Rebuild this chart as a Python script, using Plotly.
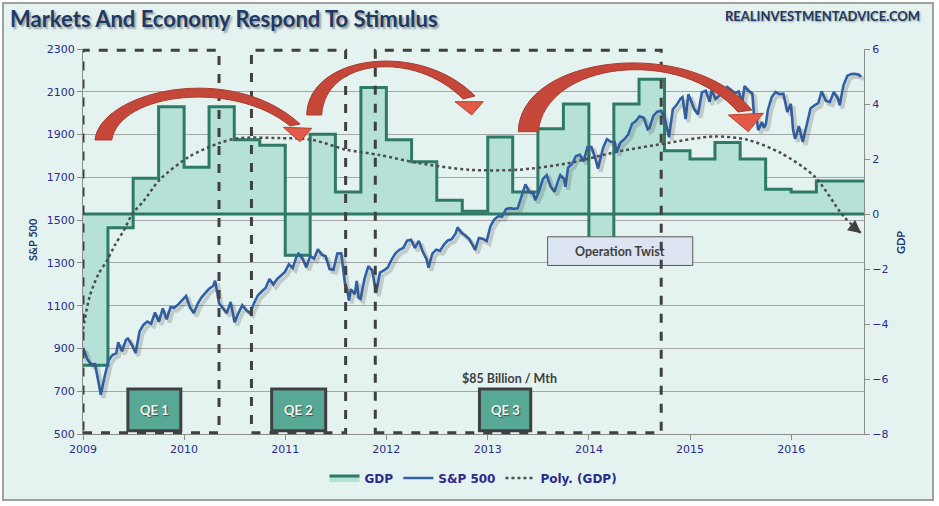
import pandas as pd
import plotly.graph_objects as go

# ---------------- data ----------------
gdp_dates = ["2009-01-01", "2009-04-01", "2009-07-01", "2009-10-01",
             "2010-01-01", "2010-04-01", "2010-07-01", "2010-10-01",
             "2011-01-01", "2011-04-01", "2011-07-01", "2011-10-01",
             "2012-01-01", "2012-04-01", "2012-07-01", "2012-10-01",
             "2013-01-01", "2013-04-01", "2013-07-01", "2013-10-01",
             "2014-01-01", "2014-04-01", "2014-07-01", "2014-10-01",
             "2015-01-01", "2015-04-01", "2015-07-01", "2015-10-01",
             "2016-01-01", "2016-04-01", "2016-09-20"]
gdp_vals = [-5.5, -0.5, 1.3, 3.9,
            1.7, 3.9, 2.7, 2.5,
            -1.5, 2.9, 0.8, 4.6,
            2.7, 1.9, 0.5, 0.1,
            2.8, 0.8, 3.1, 4.0,
            -0.9, 4.0, 4.9, 2.3,
            2.0, 2.6, 2.0, 0.9,
            0.8, 1.2, 1.2]

sp_dates = [
    "2009-01-02", "2009-01-16", "2009-01-30", "2009-02-13", "2009-02-27", "2009-03-06", "2009-03-20",
    "2009-04-03", "2009-04-17", "2009-05-01", "2009-05-08", "2009-05-22", "2009-06-05", "2009-06-12",
    "2009-06-26", "2009-07-10", "2009-07-24", "2009-08-07", "2009-08-21", "2009-09-04", "2009-09-18",
    "2009-10-02", "2009-10-16", "2009-10-30", "2009-11-13", "2009-11-27", "2009-12-11", "2009-12-24",
    "2010-01-08", "2010-01-22", "2010-02-05", "2010-02-19", "2010-03-05", "2010-03-19", "2010-04-01",
    "2010-04-16", "2010-04-23", "2010-05-07", "2010-05-21", "2010-06-04", "2010-06-18", "2010-07-02",
    "2010-07-16", "2010-07-30", "2010-08-13", "2010-08-27", "2010-09-10", "2010-09-24", "2010-10-08",
    "2010-10-22", "2010-11-05", "2010-11-19", "2010-12-03", "2010-12-17", "2010-12-31",
    "2011-01-14", "2011-01-28", "2011-02-11", "2011-02-18", "2011-03-04", "2011-03-18", "2011-04-01",
    "2011-04-15", "2011-04-29", "2011-05-13", "2011-05-27", "2011-06-10", "2011-06-24", "2011-07-08",
    "2011-07-22", "2011-08-05", "2011-08-12", "2011-08-19", "2011-08-26", "2011-09-09", "2011-09-16",
    "2011-09-23", "2011-09-30", "2011-10-14", "2011-10-28", "2011-11-11", "2011-11-25", "2011-12-09",
    "2011-12-23",
    "2012-01-06", "2012-01-20", "2012-02-03", "2012-02-17", "2012-03-02", "2012-03-16", "2012-03-30",
    "2012-04-13", "2012-04-27", "2012-05-11", "2012-05-25", "2012-06-01", "2012-06-15", "2012-06-29",
    "2012-07-13", "2012-07-27", "2012-08-10", "2012-08-24", "2012-09-07", "2012-09-14", "2012-09-28",
    "2012-10-12", "2012-10-26", "2012-11-09", "2012-11-16", "2012-11-30", "2012-12-14", "2012-12-28",
    "2013-01-11", "2013-01-25", "2013-02-08", "2013-02-22", "2013-03-08", "2013-03-22", "2013-04-05",
    "2013-04-19", "2013-05-03", "2013-05-17", "2013-05-31", "2013-06-14", "2013-06-21", "2013-07-05",
    "2013-07-19", "2013-08-02", "2013-08-16", "2013-08-30", "2013-09-13", "2013-09-20", "2013-10-04",
    "2013-10-08", "2013-10-18", "2013-11-01", "2013-11-15", "2013-11-29", "2013-12-13", "2013-12-27",
    "2014-01-10", "2014-01-24", "2014-02-03", "2014-02-21", "2014-03-07", "2014-03-21", "2014-04-04",
    "2014-04-11", "2014-04-25", "2014-05-09", "2014-05-23", "2014-06-06", "2014-06-20", "2014-07-03",
    "2014-07-18", "2014-08-01", "2014-08-08", "2014-08-22", "2014-09-05", "2014-09-19", "2014-10-03",
    "2014-10-17", "2014-10-31", "2014-11-14", "2014-11-28", "2014-12-05", "2014-12-16", "2014-12-26",
    "2015-01-09", "2015-01-16", "2015-01-30", "2015-02-13", "2015-02-27", "2015-03-13", "2015-03-20",
    "2015-04-03", "2015-04-17", "2015-05-01", "2015-05-15", "2015-05-29", "2015-06-12", "2015-06-26",
    "2015-07-08", "2015-07-17", "2015-07-31", "2015-08-14", "2015-08-21", "2015-08-28", "2015-09-04",
    "2015-09-18", "2015-09-25", "2015-10-02", "2015-10-09", "2015-10-23", "2015-11-06", "2015-11-20",
    "2015-12-04", "2015-12-18", "2015-12-31",
    "2016-01-08", "2016-01-15", "2016-01-22", "2016-01-29", "2016-02-12", "2016-02-26", "2016-03-11",
    "2016-03-24", "2016-04-08", "2016-04-20", "2016-05-06", "2016-05-20", "2016-06-03", "2016-06-17",
    "2016-06-24", "2016-07-08", "2016-07-22", "2016-08-05", "2016-08-19", "2016-09-02", "2016-09-09"]
sp_vals = [
    903, 850, 826, 827, 735, 683, 768,
    842, 869, 877, 929, 887, 940, 946,
    918, 879, 979, 1010, 1026, 1016, 1068,
    1025, 1087, 1036, 1093, 1091, 1106, 1126,
    1145, 1092, 1066, 1109, 1139, 1160, 1179,
    1192, 1217, 1111, 1088, 1065, 1117, 1022,
    1065, 1102, 1079, 1065, 1110, 1148, 1166,
    1183, 1225, 1199, 1225, 1244, 1258,
    1293, 1276, 1329, 1343, 1321, 1279, 1332,
    1320, 1364, 1338, 1331, 1271, 1268, 1344,
    1345, 1199, 1179, 1124, 1177, 1154, 1216,
    1136, 1131, 1225, 1285, 1264, 1159, 1255,
    1265,
    1278, 1315, 1345, 1361, 1370, 1404, 1408,
    1370, 1403, 1353, 1317, 1278, 1343, 1362,
    1357, 1386, 1405, 1411, 1438, 1466, 1441,
    1428, 1411, 1380, 1360, 1416, 1413, 1402,
    1472, 1503, 1518, 1516, 1551, 1556, 1553,
    1555, 1614, 1667, 1631, 1626, 1593, 1632,
    1692, 1710, 1656, 1633, 1688, 1710, 1691,
    1656, 1745, 1762, 1798, 1806, 1775, 1842,
    1842, 1790, 1741, 1836, 1878, 1866, 1865,
    1816, 1863, 1878, 1900, 1950, 1963, 1985,
    1978, 1925, 1931, 1988, 2007, 2011, 1968,
    1887, 2018, 2039, 2068, 2075, 1972, 2088,
    2044, 2019, 1995, 2097, 2105, 2053, 2108,
    2067, 2081, 2108, 2123, 2107, 2094, 2101,
    2046, 2127, 2104, 2092, 1971, 1989, 1921,
    1958, 1932, 1951, 2014, 2075, 2099, 2089,
    2091, 2005, 2044,
    1922, 1880, 1907, 1940, 1865, 1948, 2022,
    2035, 2047, 2102, 2057, 2052, 2099, 2071,
    2037, 2130, 2175, 2183, 2184, 2180, 2170]

trend_dates = ["2009-01-01", "2009-01-25", "2009-02-25", "2009-03-28", "2009-04-28", "2009-05-28",
               "2009-06-28", "2009-08-10", "2009-10-05", "2010-01-20", "2010-05-08", "2010-07-20",
               "2010-12-10", "2011-04-08", "2011-08-08", "2011-12-05", "2012-04-27", "2012-10-24",
               "2013-04-23", "2013-10-19", "2014-04-16", "2014-10-12", "2015-03-28", "2015-07-27",
               "2015-11-24", "2016-03-25", "2016-07-08", "2016-09-10"]
trend_vals = [-4.2, -3.0, -2.2, -1.7, -1.1, -0.6,
              0.0, 0.5, 1.25, 2.09, 2.58, 2.76,
              2.76, 2.7, 2.34, 2.15, 1.85, 1.61,
              1.61, 1.85, 2.27, 2.58, 2.82, 2.7,
              2.22, 1.37, -0.08, -0.7]

qe_labels = ["QE 1", "QE 2", "QE 3"]
qe_box_start = ["2009-01-01", "2010-09-01", "2011-11-22"]
qe_box_end = ["2010-05-07", "2011-08-07", "2014-09-19"]
qe_label_start = ["2009-06-12", "2010-11-13", "2012-12-02"]
qe_label_end = ["2009-12-20", "2011-05-27", "2013-06-05"]

twist_label = "Operation Twist"
twist_start, twist_end = "2013-08-05", "2015-01-11"
qe3_note = "$85 Billion / Mth"
qe3_note_date = "2013-03-21"

x_range = ["2009-01-01", "2016-09-20"]
sp_range = [500, 2300]
gdp_range = [-8, 6]

# ---------------- layout helpers ----------------
W, H = 939, 506
ML, MR, MT, MB = 83, 75, 49, 72
PW = W - ML - MR
PH = H - MT - MB


def px(x):
    return (x - ML) / PW


def py(y):
    return (H - MB - y) / PH


def path_px(cmds):
    parts = []
    for letter, pts in cmds:
        if letter == "L":
            for x, y in pts:
                parts.append(f"L{px(x):.5f},{py(y):.5f}")
        elif letter == "Z":
            parts.append("Z")
        else:
            parts.append(letter + " ".join(f"{px(x):.5f},{py(y):.5f}" for x, y in pts))
    return " ".join(parts)


NAVY = "#2b2b8c"
TITLE_NAVY = "#1f3864"
GREEN_LINE = "#2e7a66"
GREEN_FILL = "#b5e1d6"
BLUE = "#2f60a8"

fig = go.Figure()

# GDP area (primary axis, drawn first / lowest)
fig.add_trace(go.Scatter(
    x=gdp_dates, y=gdp_vals, name="GDP", mode="lines", line=dict(color=GREEN_LINE, width=3, shape="hv"),
    fill="tozeroy", fillcolor=GREEN_FILL, xaxis="x", yaxis="y", legendrank=1))
fig.add_trace(go.Scatter(
    x=[gdp_dates[0], gdp_dates[-1]], y=[0, 0], mode="lines", line=dict(color=GREEN_LINE, width=3),
    showlegend=False, hoverinfo="skip", xaxis="x", yaxis="y"))
# polynomial trend of GDP
fig.add_trace(go.Scatter(
    x=trend_dates, y=trend_vals, name="Poly. (GDP)", mode="lines",
    line=dict(color="#4d4d4d", width=2.5, dash="dot", shape="spline", smoothing=0.8),
    xaxis="x", yaxis="y", legendrank=3))
# S&P shadow
fig.add_trace(go.Scatter(
    x=sp_dates, y=sp_vals, mode="lines", line=dict(color="rgba(70,70,70,0.22)", width=4),
    showlegend=False, hoverinfo="skip", xaxis="x2", yaxis="y2"))
# S&P 500
fig.add_trace(go.Scatter(
    x=sp_dates, y=sp_vals, name="S&P 500", mode="lines", line=dict(color=BLUE, width=2.6),
    xaxis="x", yaxis="y3", legendrank=2))

shift_days = pd.Timedelta(days=10)
sp_shift = 3 * (sp_range[1] - sp_range[0]) / PH

tickfont = dict(family="DejaVu Sans", size=11, color=NAVY)
fig.update_layout(
    width=W, height=H,
    margin=dict(l=ML, r=MR, t=MT, b=MB),
    paper_bgcolor="white", plot_bgcolor="rgba(0,0,0,0)",
    xaxis=dict(type="date", range=x_range, dtick="M12", tick0="2009-01-01", tickformat="%Y",
               ticks="outside", ticklen=5, tickcolor="#8c8c8c", showline=True, linecolor="#8c8c8c",
               linewidth=1, showgrid=False, tickfont=tickfont, zeroline=False),
    xaxis2=dict(type="date", overlaying="x", visible=False,
                range=[str((pd.Timestamp(x_range[0]) - shift_days).date()),
                       str((pd.Timestamp(x_range[1]) - shift_days).date())]),
    yaxis=dict(range=gdp_range, dtick=2, tick0=gdp_range[0], side="right", showgrid=False, zeroline=False,
               ticks="outside", ticklen=5, tickcolor="#8c8c8c", showline=True, linecolor="#8c8c8c",
               tickfont=tickfont),
    yaxis2=dict(overlaying="y", visible=False, range=[sp_range[0] + sp_shift, sp_range[1] + sp_shift]),
    yaxis3=dict(overlaying="y", side="left", range=sp_range, dtick=200, tick0=sp_range[0], showgrid=True,
                gridcolor="#a6a6a6", gridwidth=1, zeroline=False, ticks="outside", ticklen=5,
                tickcolor="#8c8c8c", showline=True, linecolor="#8c8c8c", tickfont=tickfont),
    legend=dict(orientation="h", x=0.5, xanchor="center", y=py(478), yanchor="middle",
                font=dict(family="DejaVu Sans", size=12, color=NAVY, weight="bold"),
                bgcolor="rgba(0,0,0,0)", itemwidth=30),
    font=dict(family="DejaVu Sans"),
)

shapes = []
# chart background with border
shapes.append(dict(type="rect", xref="paper", yref="paper", x0=px(3), x1=px(933), y0=py(500), y1=py(3),
                   fillcolor="#e5f3f0", line=dict(color="#a0a0a0", width=2), layer="below"))

# Operation Twist box
shapes.append(dict(type="rect", xref="x", yref="y3", x0=twist_start, x1=twist_end, y0=1288, y1=1422,
                   fillcolor="#dde4f1", line=dict(color="#595959", width=1), layer="above"))

# QE dashed boxes and labels
for s, e in zip(qe_box_start, qe_box_end):
    shapes.append(dict(type="rect", xref="x", yref="paper", x0=s, x1=e, y0=0.003, y1=0.997,
                       line=dict(color="#404040", width=3, dash="dash"), fillcolor="rgba(0,0,0,0)",
                       layer="above"))
for s, e in zip(qe_label_start, qe_label_end):
    shapes.append(dict(type="rect", xref="x", yref="y3", x0=s, x1=e, y0=515, y1=710,
                       fillcolor="#57a894", line=dict(color="#404040", width=3), layer="above"))

# red curved arrows (bodies + heads), pixel-designed
arrows = [
    dict(body=[("M", [(95, 140)]), ("C", [(100, 92), (230, 60), (300, 124)]),
               ("L", [(290, 126)]), ("C", [(235, 80), (120, 92), (111.7, 140)]), ("Z", [])],
         head=[("M", [(311.7, 128.3)]), ("L", [(300, 141.7), (283.3, 127.3)]), ("Z", [])]),
    dict(body=[("M", [(306.7, 115)]), ("C", [(308, 55), (420, 40), (475, 96)]),
               ("L", [(463, 99)]), ("C", [(415, 50), (325, 58), (321.7, 115)]), ("Z", [])],
         head=[("M", [(483.3, 101.7)]), ("L", [(471.7, 115), (455, 101.7)]), ("Z", [])]),
    dict(body=[("M", [(518.3, 131.7)]), ("C", [(520, 55), (690, 35), (752, 110)]),
               ("L", [(738, 112)]), ("C", [(680, 45), (545, 62), (538.3, 131.7)]), ("Z", [])],
         head=[("M", [(763.3, 113.3)]), ("L", [(748.3, 131.7), (728.3, 115)]), ("Z", [])]),
]
for a in arrows:
    shapes.append(dict(type="path", xref="paper", yref="paper", path=path_px(a["body"]),
                       fillcolor="#c5473a", line=dict(color="#a83a2e", width=1), layer="above"))
    shapes.append(dict(type="path", xref="paper", yref="paper", path=path_px(a["head"]),
                       fillcolor="#e35a48", line=dict(color="#b8402f", width=1), layer="above"))

fig.update_layout(shapes=shapes)

annotations = []
annotations.append(dict(text="Markets And Economy Respond To Stimulus", xref="paper", yref="paper",
                        x=px(8), y=py(18), xanchor="left", yanchor="middle", showarrow=False,
                        font=dict(family="Lato", size=22, color=TITLE_NAVY, weight="bold",
                                  shadow="2px 2px 2px rgba(0,0,0,0.35)")))
annotations.append(dict(text="REALINVESTMENTADVICE.COM", xref="paper", yref="paper",
                        x=px(922), y=py(16), xanchor="right", yanchor="middle", showarrow=False,
                        font=dict(family="Lato", size=13, color=TITLE_NAVY, weight="bold",
                                  shadow="1px 1px 2px rgba(0,0,0,0.35)")))
annotations.append(dict(text="S&P 500", xref="paper", yref="paper", x=px(32), y=py(240),
                        xanchor="center", yanchor="middle", textangle=-90, showarrow=False,
                        font=dict(family="Lato", size=11, color=TITLE_NAVY, weight="bold")))
annotations.append(dict(text="GDP", xref="paper", yref="paper", x=px(901), y=py(243),
                        xanchor="center", yanchor="middle", textangle=-90, showarrow=False,
                        font=dict(family="Lato", size=11, color=TITLE_NAVY, weight="bold")))
for lab, s, e in zip(qe_labels, qe_label_start, qe_label_end):
    mid = pd.Timestamp(s) + (pd.Timestamp(e) - pd.Timestamp(s)) / 2
    annotations.append(dict(text=lab, x=mid, y=(515 + 710) / 2, xref="x", yref="y3", showarrow=False,
                            font=dict(family="Lato", size=13, color="#f4f4f4", weight="bold",
                                      shadow="1px 1px 1px rgba(0,0,0,0.5)")))
annotations.append(dict(text=qe3_note, x=qe3_note_date, y=760, xref="x", yref="y3", showarrow=False,
                        font=dict(family="Lato", size=12.5, color="#404040", weight="bold")))
tw_mid = pd.Timestamp(twist_start) + (pd.Timestamp(twist_end) - pd.Timestamp(twist_start)) / 2
annotations.append(dict(text=twist_label, x=tw_mid, y=(1288 + 1422) / 2, xref="x", yref="y3",
                        showarrow=False,
                        font=dict(family="Lato", size=12.5, color="#404040", weight="bold")))
# arrow head at the end of the trend line
annotations.append(dict(x=trend_dates[-1], y=trend_vals[-1], xref="x", yref="y", showarrow=True,
                        ax=-10, ay=-8, arrowhead=2, arrowsize=1.3, arrowwidth=2, arrowcolor="#404040",
                        text=""))
fig.update_layout(annotations=annotations)

fig.write_html("out.html", config={"displayModeBar": False})
